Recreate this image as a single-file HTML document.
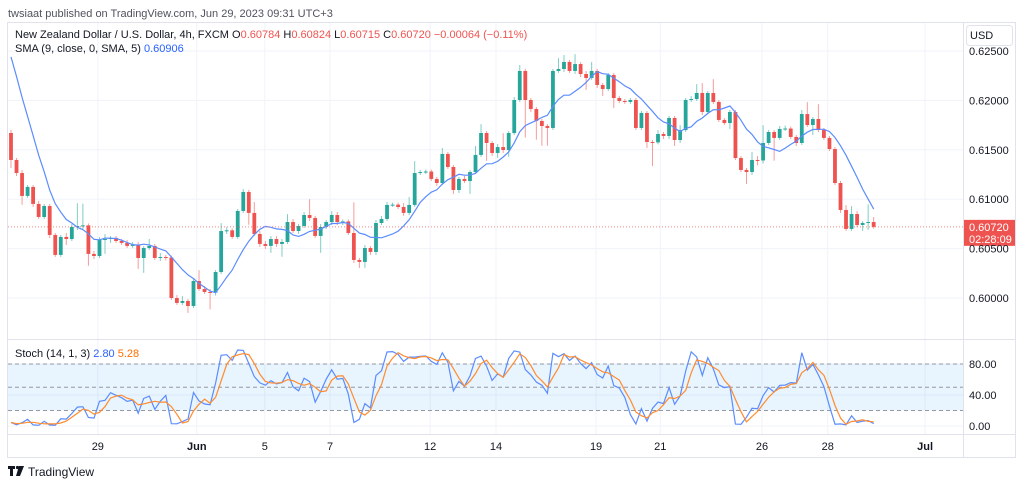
<!DOCTYPE html>
<html><head><meta charset="utf-8">
<style>
html,body{margin:0;padding:0;background:#fff;}
body{width:1024px;height:486px;overflow:hidden;font-family:"Liberation Sans",sans-serif;}
svg text{font-family:"Liberation Sans",sans-serif;}
</style></head>
<body>
<svg id="chart" width="1024" height="486" viewBox="0 0 1024 486" xmlns="http://www.w3.org/2000/svg">
  <text x="8" y="17" font-size="11" fill="#50535e">twsiaat published on TradingView.com, Jun 29, 2023 09:31 UTC+3</text>
  <rect x="7.5" y="22.5" width="1008" height="435" fill="#fff" stroke="#e0e3eb"/>
  <g id="grid"></g>
  <rect id="band" x="8" y="364" width="955" height="47" fill="#2196f3" fill-opacity="0.1"/>
  <g id="stochLines"></g>
  <g id="candles"></g>
  <g id="overlays"></g>
  <line x1="963.5" y1="22" x2="963.5" y2="457" stroke="#e0e3eb"/>
  <line x1="8" y1="339.5" x2="1016" y2="339.5" stroke="#e0e3eb"/>
  <line x1="8" y1="434.5" x2="1016" y2="434.5" stroke="#e0e3eb"/>
  <g id="axes"></g>
  <rect x="966.5" y="25.5" width="46" height="20" rx="3" fill="#fff" stroke="#e0e3eb"/>
  <text x="970" y="39" font-size="11" fill="#131722">USD</text>
  <g font-size="11">
    <text x="15" y="38" fill="#131722">New Zealand Dollar / U.S. Dollar, 4h, FXCM  O<tspan fill="#ef5350">0.60784</tspan>  H<tspan fill="#ef5350">0.60824</tspan>  L<tspan fill="#ef5350">0.60715</tspan>  C<tspan fill="#ef5350">0.60720  −0.00064 (−0.11%)</tspan></text>
    <text x="15" y="52" fill="#131722">SMA (9, close, 0, SMA, 5)  <tspan fill="#2962ff">0.60906</tspan></text>
    <text x="15" y="357" fill="#131722">Stoch (14, 1, 3)  <tspan fill="#2962ff">2.80</tspan>  <tspan fill="#ff6d00">5.28</tspan></text>
  </g>
  <g>
    <rect x="8" y="466" width="7" height="3" fill="#131722"/><rect x="10" y="466" width="3" height="10" fill="#131722"/>
    <circle cx="17.5" cy="467.5" r="1.6" fill="#131722"/><polygon points="19,466 24,466 20,476 16,476" fill="#131722"/>
    <text x="28" y="476" font-size="12" fill="#131722">TradingView</text>
  </g>
</svg>
<script>
// ---- data ----
const priorCloses=[0.6305,0.6295,0.6285,0.6270,0.6260,0.6245,0.6230,0.6167];
const firstOpen=0.61670;
const closes=[0.61397,0.61265,0.61033,0.61124,0.60952,0.60820,0.60931,0.60638,0.60436,0.60618,
0.60597,0.60719,0.60729,0.60735,0.60446,0.60425,0.60587,0.60597,0.60608,0.60577,
0.60557,0.60527,0.60537,0.60405,0.60506,0.60527,0.60405,0.60415,0.60410,0.60000,
0.59950,0.59970,0.59919,0.60172,0.60091,0.60061,0.60055,0.60263,0.60678,0.60685,
0.60618,0.60881,0.61073,0.60861,0.60648,0.60547,0.60527,0.60597,0.60547,0.60567,
0.60769,0.60678,0.60729,0.60840,0.60810,0.60628,0.60719,0.60769,0.60840,0.60769,
0.60775,0.60658,0.60385,0.60365,0.60506,0.60466,0.60759,0.60800,0.60942,0.60945,
0.60921,0.60861,0.60942,0.61265,0.61275,0.61280,0.61205,0.61164,0.61458,0.61326,
0.61093,0.61205,0.61184,0.61275,0.61448,0.61670,0.61569,0.61468,0.61528,0.61498,
0.61670,0.62004,0.62298,0.62004,0.61913,0.61792,0.61741,0.61721,0.62298,0.62318,
0.62389,0.62298,0.62368,0.62267,0.62227,0.62298,0.62156,0.62115,0.62257,0.62024,
0.61994,0.61984,0.62004,0.61721,0.61873,0.61579,0.61575,0.61660,0.61640,0.61822,
0.61599,0.61700,0.62004,0.62014,0.62075,0.61883,0.62075,0.61984,0.61802,0.61771,
0.61883,0.61417,0.61296,0.61275,0.61397,0.61392,0.61569,0.61680,0.61620,0.61711,
0.61715,0.61630,0.61569,0.61862,0.61751,0.61812,0.61700,0.61620,0.61508,0.61164,
0.60891,0.60699,0.60850,0.60739,0.60759,0.60769,0.60720];
// upper / lower wick lengths in pips (0.0001)
const upperWicks=[3,2,3,2,2,3,2,2,2,2,4,3,23,22,2,3,3,5,2,2,2,3,3,3,2,7,2,4,2,2,3,5,2,2,11,3,3,2,8,3,2,2,3,2,11,3,3,3,3,3,8,3,2,3,16,2,3,2,4,3,
2,2,31,2,3,2,3,3,3,2,2,4,8,12,2,2,2,2,6,2,2,2,3,2,9,9,2,2,3,14,2,3,6,2,2,2,2,2,2,11,7,2,10,2,3,9,2,2,2,2,2,2,2,2,2,2,2,4,2,2,
2,5,2,3,9,10,2,14,2,2,2,2,2,2,8,4,18,2,2,3,3,2,2,4,12,2,15,2,2,2,2,5,8,3,2,18,5];
const lowerWicks=[8,3,9,2,3,2,2,3,2,2,6,2,3,3,12,3,2,14,4,2,2,2,2,11,15,2,2,3,3,2,2,2,7,2,2,2,17,3,2,3,2,2,2,12,2,3,3,7,3,13,2,2,3,2,3,2,17,2,3,3,
3,2,3,6,6,3,3,2,2,2,2,3,2,2,2,2,2,3,2,2,4,3,2,13,2,2,18,3,5,3,7,2,2,38,3,19,20,18,2,2,3,2,3,3,12,2,3,7,2,10,2,2,2,2,2,6,24,2,3,3,
6,3,2,2,2,3,2,2,2,2,6,2,2,12,3,5,3,2,23,2,2,2,3,2,2,10,2,2,2,2,3,2,2,2,6,7,2];
const priceTicks=[0.625,0.620,0.615,0.610,0.605,0.600];
const priceTickLabels=["0.62500","0.62000","0.61500","0.61000","0.60500","0.60000"];
const stochTicks=[80,40,0];
const stochTickLabels=["80.00","40.00","0.00"];
const dateLabels=["29","Jun","5","7","12","14","19","21","26","28","Jul"];
const dateBars=[15.7,33.6,45.9,57.7,75.8,87.7,105.8,117.4,135.8,147.7,165.3];
const lastPrice=0.60720, lastPriceLabel="0.60720", countdown="02:28:09";

// ---- axes ----
const NS="http://www.w3.org/2000/svg";
const xBar=i=>11+i*5.53;
const yP=p=>51+(0.625-p)*9880;
const yS=v=>426-v*0.775;
function mk(tag,attrs,parent){const e=document.createElementNS(NS,tag);for(const k in attrs)e.setAttribute(k,attrs[k]);parent.appendChild(e);return e;}
const grid=document.getElementById('grid'),axes=document.getElementById('axes'),cg=document.getElementById('candles'),ov=document.getElementById('overlays'),sl=document.getElementById('stochLines');

dateBars.forEach((b,i)=>{
  const x=xBar(b);
  const gl=mk('line',{x1:x,y1:23,x2:x,y2:434,stroke:'#f0f3fa'},grid);
  
  
  const t=mk('text',{x:x,y:450,'font-size':11,'text-anchor':'middle',fill:'#131722','font-weight':(dateLabels[i]==='Jun'||dateLabels[i]==='Jul')?'bold':'normal'},axes);
  t.textContent=dateLabels[i];
  
  
});
priceTicks.forEach((p,i)=>{
  const y=yP(p);
  const gl=mk('line',{x1:8,y1:y,x2:963,y2:y,stroke:'#f0f3fa'},grid);
  
  
  const t=mk('text',{x:969,y:y+4,'font-size':11,fill:'#131722'},axes);
  t.textContent=priceTickLabels[i];
  
  
});
stochTicks.forEach((v,i)=>{
  const y=yS(v);
  const gl=mk('line',{x1:8,y1:y,x2:963,y2:y,stroke:'#f0f3fa'},grid);
  
  
  const t=mk('text',{x:969,y:y+4,'font-size':11,fill:'#131722'},axes);
  t.textContent=stochTickLabels[i];
  
  
});
const band=document.getElementById('band');band.setAttribute('y',yS(80));band.setAttribute('height',yS(20)-yS(80));
[80,50,20].forEach(v=>{
  const l=mk('line',{x1:8,y1:yS(v),x2:963,y2:yS(v),stroke:'#9598a1','stroke-dasharray':'4,3','stroke-width':1},sl);
  
  
});

// ---- candles ----
const opens=[],highs=[],lows=[];
closes.forEach((c,i)=>{
  const o=i===0?firstOpen:closes[i-1];
  opens.push(o);
  highs.push(Math.max(o,c)+upperWicks[i]*0.0001);
  lows.push(Math.min(o,c)-lowerWicks[i]*0.0001);
});
closes.forEach((c,i)=>{
  const o=opens[i],x=xBar(i),up=c>=o,col=up?'#26a69a':'#ef5350';
  const w=mk('line',{x1:x,x2:x,y1:yP(highs[i]),y2:yP(lows[i]),stroke:up?'#7fcdc5':'#f49c9a','stroke-width':1},cg);
  
  
  const top=yP(Math.max(o,c)),h=Math.max(1,yP(Math.min(o,c))-top);
  const r=mk('rect',{x:x-1.9,y:top,width:3.8,height:h,fill:col},cg);
  
  
});

// ---- SMA 9 ----
const all=priorCloses.concat(closes);
let pts=[];
closes.forEach((c,i)=>{
  const j=i+priorCloses.length;let s=0;for(let k=j-8;k<=j;k++)s+=all[k];
  pts.push(xBar(i).toFixed(1)+','+yP(s/9).toFixed(1));
});
const sma=mk('polyline',{points:pts.join(' '),fill:'none',stroke:'#5b8cff','stroke-width':1.2},ov);



// ---- current price ----
const yl=yP(lastPrice);
const pl=mk('line',{x1:8,x2:963,y1:yl,y2:yl,stroke:'#ef5350','stroke-dasharray':'1,2','stroke-opacity':0.7},ov);


const pb=mk('rect',{x:963,y:yl-7,width:52,height:26,fill:'#ef5350'},ov);


const t1=mk('text',{x:969,y:yl+4,'font-size':11,fill:'#fff'},ov);t1.textContent=lastPriceLabel;


const t2=mk('text',{x:969,y:yl+16,'font-size':11,fill:'#fff'},ov);t2.textContent=countdown;



// ---- Stochastic (14,1,3) ----
const extH=priorCloses.concat(highs), extL=priorCloses.concat(lows), np=priorCloses.length;
const K=[];
closes.forEach((c,i)=>{
  const j=i+np,a=Math.max(0,j-13);let hh=-1,ll=9;
  for(let k=a;k<=j;k++){hh=Math.max(hh,extH[k]);ll=Math.min(ll,extL[k]);}
  K.push(hh>ll?100*(c-ll)/(hh-ll):50);
});
const D=K.map((v,i)=>{const a=Math.max(0,i-2);let s=0;for(let k=a;k<=i;k++)s+=K[k];return s/(i-a+1);});
const kl=mk('polyline',{points:K.map((v,i)=>xBar(i).toFixed(1)+','+yS(v).toFixed(1)).join(' '),fill:'none',stroke:'#5b8cff','stroke-width':1.2},ov);


const dl=mk('polyline',{points:D.map((v,i)=>xBar(i).toFixed(1)+','+yS(v).toFixed(1)).join(' '),fill:'none',stroke:'#ff8c2e','stroke-width':1.2},ov);


</script>
</body></html>
